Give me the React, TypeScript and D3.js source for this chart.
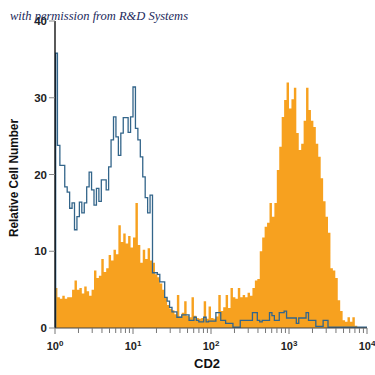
import { useMemo } from 'react';
import * as d3 from 'd3';

// 128 channels over 4 decades (1/32 decade per channel)
const cd2Stained = [
  5.2, 4.0, 3.8, 4.2, 3.8, 4.0, 4.0, 5.0, 6.2, 5.0, 5.2, 4.5, 5.4, 4.8, 4.2, 5.0,
  7.5, 6.5, 6.8, 9.0, 7.3, 7.8, 9.5, 8.8, 10.2, 9.6, 13.4, 11.2, 12.3, 11.0, 12.0, 10.5,
  11.8, 16.3, 10.8, 8.5, 10.2, 9.0, 10.4, 8.8, 8.5, 7.0, 6.6, 5.8, 5.0, 4.0, 3.0, 2.5,
  2.3, 1.8, 4.3, 1.5, 2.0, 3.5, 1.6, 1.4, 4.0, 1.6, 1.3, 1.2, 1.3, 3.5, 1.2, 2.8,
  1.3, 1.2, 1.5, 4.3, 2.2, 2.7, 4.3, 2.6, 5.2, 4.0, 3.8, 5.2, 4.0, 4.3, 4.0, 4.6,
  4.2, 5.2, 6.2, 6.4, 10.0, 11.8, 13.2, 13.7, 16.3, 14.5, 16.3, 20.6, 23.6, 27.5, 29.7, 32.0,
  28.6, 29.8, 31.3, 25.4, 23.2, 24.0, 27.0, 31.3, 28.4, 27.0, 26.2, 24.0, 22.3, 19.5, 16.5, 14.5,
  12.4, 7.8, 7.5, 6.5, 3.6, 2.2, 1.0, 0.8, 1.4, 0.8, 1.4, 0.3, 0, 0, 0, 0,
];

const isotypeControl = [
  35.8, 23.8, 21.2, 21.2, 18.4, 17.7, 15.6, 16.3, 12.8, 14.5, 16.4, 15.0, 16.3, 18.4, 20.3, 18.0,
  16.0, 18.2, 16.5, 19.3, 19.3, 18.0, 21.0, 24.5, 27.5, 24.9, 22.5, 25.4, 27.4, 27.4, 25.5, 27.5,
  31.4, 26.0, 24.5, 22.3, 19.7, 17.0, 15.0, 17.3, 7.2, 7.2, 7.0, 6.0, 6.0, 4.0, 3.5, 2.7,
  2.1, 2.1, 1.4, 1.4, 1.7, 1.7, 1.7, 1.0, 1.0, 1.4, 1.0, 0.8, 0.8, 1.4, 0.8, 0.9,
  0.9, 0.9, 2.0, 2.0, 1.0, 1.0, 0.6, 0.6, 0.6, 0.1, 0.1, 0.1, 1.0, 1.0, 1.0, 1.0,
  1.0, 2.0, 2.0, 1.0, 0.8, 1.0, 1.0, 1.0, 2.0, 1.6, 1.0, 1.0, 2.0, 2.0, 2.2, 1.3,
  1.3, 1.3, 1.3, 0.6, 1.3, 1.3, 1.3, 2.0, 1.0, 1.0, 1.0, 0.2, 0.2, 0.2, 1.0, 1.0,
  0.1, 0.1, 0.1, 0.1, 0.1, 0.1, 0.1, 0.1, 0.1, 0.1, 0.1, 0.1, 0.1, 0.1, 0.1, 0.1,
];

const yTicks = [0, 10, 20, 30, 40];
const xDecades = [0, 1, 2, 3, 4];
const channelsPerDecade = 32;

const axisFont = '"Liberation Sans Narrow", "Arial Narrow", "Liberation Sans", Arial, sans-serif';

export default function App() {
  const x = d3.scaleLog().domain([1, 1e4]).range([55, 367]);
  const y = d3.scaleLinear().domain([0, 40]).range([328, 21]);

  const toPoints = (vals: number[]) => {
    const pts = vals.map((v, i) => ({ e: Math.pow(10, i / channelsPerDecade), v }));
    pts.push({ e: Math.pow(10, vals.length / channelsPerDecade), v: vals[vals.length - 1] });
    return pts;
  };

  const { areaPath, linePath } = useMemo(() => {
    const stained = toPoints(cd2Stained);
    const area = d3
      .area<{ e: number; v: number }>()
      .x((d) => x(d.e))
      .y0(y(0))
      .y1((d) => y(d.v))
      .curve(d3.curveStepAfter);
    const ctrl = [{ e: 1.02, v: 0 }, ...toPoints(isotypeControl).map((p, i) => (i === 0 ? { ...p, e: 1.02 } : p))];
    const line = d3
      .line<{ e: number; v: number }>()
      .x((d) => x(d.e))
      .y((d) => y(d.v))
      .curve(d3.curveStepAfter);
    return { areaPath: area(stained) ?? '', linePath: line(ctrl) ?? '' };
  }, []);

  const minorTicks: number[] = [];
  for (let k = 0; k < 4; k++) {
    for (let m = 2; m <= 9; m++) minorTicks.push(m * Math.pow(10, k));
  }

  return (
    <svg
      width={375}
      height={375}
      style={{ position: 'absolute', left: 0, top: 0, background: '#fff' }}
    >
      <path d={areaPath} fill="#f7a11f" />
      <path d={linePath} fill="none" stroke="#33658a" strokeWidth={1.3} />

      {/* y axis */}
      <line x1={x(1)} x2={x(1)} y1={y(40)} y2={y(0)} stroke="#000" strokeWidth={1.3} />
      {yTicks.map((t) => (
        <g key={t}>
          <line x1={x(1) - 6} x2={x(1)} y1={y(t)} y2={y(t)} stroke="#888" strokeWidth={1} />
          <text
            x={x(1) - 8}
            y={y(t)}
            dy="0.35em"
            textAnchor="end"
            fontFamily={axisFont}
            fontWeight="bold"
            fontSize={11.5}
            fill="#222"
          >
            {t}
          </text>
        </g>
      ))}

      {/* x axis */}
      <line x1={x(1)} x2={x(1e4)} y1={y(0)} y2={y(0)} stroke="#444" strokeWidth={1.2} />
      {minorTicks.map((t) => (
        <line key={t} x1={x(t)} x2={x(t)} y1={y(0)} y2={y(0) + 5} stroke="#777" strokeWidth={1} />
      ))}
      {xDecades.map((k) => (
        <g key={k}>
          <line
            x1={x(Math.pow(10, k))}
            x2={x(Math.pow(10, k))}
            y1={y(0)}
            y2={y(0) + 6}
            stroke="#777"
            strokeWidth={1}
          />
          <text
            x={x(Math.pow(10, k))}
            y={350}
            textAnchor="middle"
            fontFamily={axisFont}
            fontWeight="bold"
            fontSize={11}
            fill="#222"
          >
            10
            <tspan dy={-4.5} fontSize={8}>
              {k}
            </tspan>
          </text>
        </g>
      ))}

      <text
        x={207}
        y={368}
        textAnchor="middle"
        fontFamily={axisFont}
        fontWeight="bold"
        fontSize={13}
        textLength={26}
        lengthAdjust="spacingAndGlyphs"
        fill="#111"
      >
        CD2
      </text>
      <text
        transform={`translate(18,${178}) rotate(-90)`}
        textAnchor="middle"
        fontFamily={axisFont}
        fontWeight="bold"
        fontSize={12.5}
        textLength={118}
        lengthAdjust="spacingAndGlyphs"
        fill="#111"
      >
        Relative Cell Number
      </text>

      <text
        x={10}
        y={20}
        fontFamily='"Liberation Serif", "DejaVu Serif", serif'
        fontStyle="italic"
        fontSize={12.5}
        fill="#1c2a5c"
      >
        with permission from R&amp;D Systems
      </text>
    </svg>
  );
}
